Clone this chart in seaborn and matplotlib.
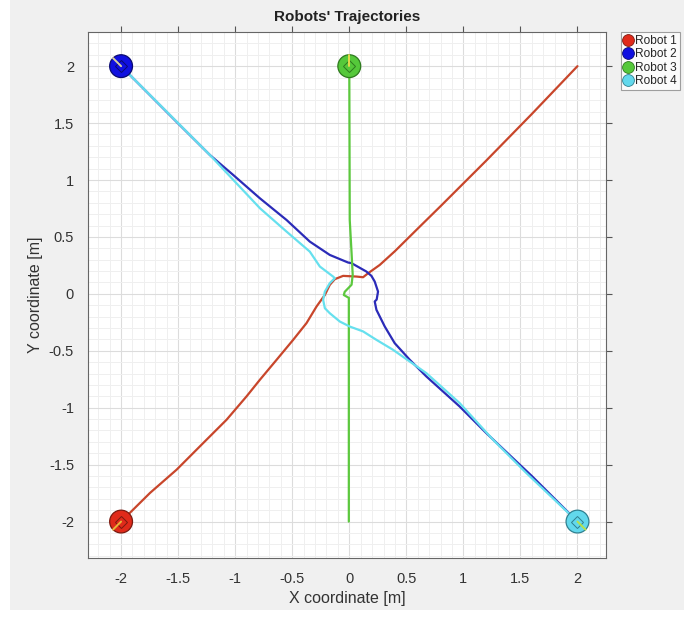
import numpy as np
import pandas as pd
import matplotlib
matplotlib.use("Agg")
import matplotlib.pyplot as plt
import seaborn as sns
from matplotlib.patches import Circle, Rectangle
from matplotlib.lines import Line2D
from matplotlib.ticker import MultipleLocator

# Trajectories (data coordinates, metres)
robot1_x = [-2.0, -1.746, -1.513, -1.28, -1.075, -0.90, -0.783, -0.637, -0.492, -0.375, -0.287, -0.229,
            -0.214, -0.171, -0.127, -0.054, 0.063, 0.121, 0.165, 0.267, 0.40, 0.617, 0.80, 1.2, 1.6, 2.0]
robot1_y = [-2.0, -1.748, -1.544, -1.31, -1.105, -0.90, -0.754, -0.579, -0.404, -0.257, -0.111, -0.03,
            -0.01, 0.079, 0.129, 0.158, 0.152, 0.146, 0.181, 0.254, 0.375, 0.59, 0.77, 1.17, 1.58, 2.0]

robot2_x = [-2.0, -1.513, -1.221, -1.017, -0.783, -0.55, -0.346, -0.171, -0.01, 0.019, 0.15, 0.194, 0.223,
            0.252, 0.24, 0.223, 0.238, 0.311, 0.398, 0.53, 0.675, 0.967, 1.2, 1.6, 2.0]
robot2_y = [2.0, 1.51, 1.219, 1.044, 0.839, 0.649, 0.459, 0.342, 0.275, 0.27, 0.196, 0.158, 0.108,
            0.02, -0.05, -0.067, -0.14, -0.287, -0.433, -0.579, -0.725, -0.989, -1.222, -1.6, -2.0]

robot3_x = [0.0, 0.004, 0.02, 0.03, 0.02, -0.04, -0.048, -0.004, -0.004, -0.004]
robot3_y = [2.0, 0.65, 0.36, 0.167, 0.08, 0.018, -0.01, -0.035, -0.11, -2.0]

robot4_x = [2.0, 1.551, 1.259, 0.967, 0.675, 0.383, 0.238, 0.121, 0.004, -0.083, -0.171, -0.214, -0.229,
            -0.214, -0.171, -0.127, -0.142, -0.258, -0.346, -0.55, -0.783, -1.221, -1.6, -2.0]
robot4_y = [-2.0, -1.573, -1.28, -0.959, -0.696, -0.491, -0.404, -0.33, -0.287, -0.243, -0.17, -0.126, -0.053,
            0.02, 0.094, 0.138, 0.152, 0.24, 0.371, 0.547, 0.752, 1.219, 1.6, 2.0]

# Robot start poses (x, y, heading in degrees)
robot_names = ["Robot 1", "Robot 2", "Robot 3", "Robot 4"]
start_x = [-2.0, -2.0, 0.0, 2.0]
start_y = [-2.0, 2.0, 2.0, -2.0]
heading_deg = [225, 135, 90, -45]

line_colors = ["#c8462b", "#2b2bb8", "#5cc83e", "#66e0ee"]
fill_colors = ["#e02a1a", "#1010e0", "#55c83a", "#62d8ec"]
edge_colors = ["#7a1a10", "#0a0a70", "#2e7a1e", "#2f8090"]
head_colors = ["#e8b83a", "#d9d0a0", "#e6d84a", "#b8e04a"]

traj = pd.concat([
    pd.DataFrame({"x": robot1_x, "y": robot1_y, "robot": "Robot 1"}),
    pd.DataFrame({"x": robot2_x, "y": robot2_y, "robot": "Robot 2"}),
    pd.DataFrame({"x": robot3_x, "y": robot3_y, "robot": "Robot 3"}),
    pd.DataFrame({"x": robot4_x, "y": robot4_y, "robot": "Robot 4"}),
], ignore_index=True)

sns.set_style("white")
plt.rcParams["font.family"] = ["Liberation Sans", "DejaVu Sans"]
plt.rcParams["axes.unicode_minus"] = False

fig = plt.figure(figsize=(6.84, 6.18), dpi=100, facecolor="white")
# grey window background like the screenshot
fig.patches.append(Rectangle((10 / 684, 8 / 618), 1, 1, transform=fig.transFigure,
                             facecolor="#f0f0f0", edgecolor="none", zorder=-10))
ax = fig.add_axes([88 / 684, 60 / 618, 518 / 684, 526 / 618])
ax.set_facecolor("white")

for i, name in enumerate(robot_names):
    sub = traj[traj["robot"] == name]
    sns.lineplot(data=sub, x="x", y="y", sort=False, estimator=None, color=line_colors[i],
                 linewidth=1.6, ax=ax, legend=False, zorder=3)

# robot bodies
for i in range(4):
    ax.add_patch(Circle((start_x[i], start_y[i]), 0.1, facecolor=fill_colors[i],
                        edgecolor=edge_colors[i], linewidth=0.9, zorder=5))
    ax.plot(start_x[i], start_y[i], marker="D", markersize=6, markerfacecolor="none",
            markeredgecolor=edge_colors[i], markeredgewidth=0.7, zorder=6)
    h = np.deg2rad(heading_deg[i])
    ax.plot([start_x[i], start_x[i] + 0.1 * np.cos(h)], [start_y[i], start_y[i] + 0.1 * np.sin(h)],
            color=head_colors[i], linewidth=1.4, zorder=7)

ax.set_xlim(-2.29, 2.25)
ax.set_ylim(-2.32, 2.30)
ax.xaxis.set_minor_locator(MultipleLocator(0.1))
ax.yaxis.set_minor_locator(MultipleLocator(0.1))
tick_vals = np.arange(-2, 2.01, 0.5)
tick_labels = ["-2", "-1.5", "-1", "-0.5", "0", "0.5", "1", "1.5", "2"]
ax.set_xticks(tick_vals)
ax.set_xticklabels(tick_labels)
ax.set_yticks(tick_vals)
ax.set_yticklabels(tick_labels)
ax.grid(which="major", color="#dcdcdc", linewidth=0.8)
ax.grid(which="minor", color="#efefef", linewidth=0.7)
ax.set_axisbelow(True)
ax.tick_params(which="major", direction="out", length=4, width=0.8, color="#555555",
               labelsize=10.5, labelcolor="#333333", top=True, right=True, pad=6)
ax.tick_params(which="minor", length=0)
for s in ax.spines.values():
    s.set_color("#666666")
    s.set_linewidth(0.8)

ax.set_xlabel("X coordinate [m]", fontsize=11.5, color="#333333", labelpad=4)
ax.set_ylabel("Y coordinate [m]", fontsize=11.5, color="#333333", labelpad=4)
ax.set_title("Robots' Trajectories", fontsize=11, fontweight="bold", color="#222222", pad=8)

# legend outside the axes, top right
handles = [Line2D([], [], linestyle="none", marker="o", markersize=8.5, markerfacecolor=fill_colors[i],
                  markeredgecolor=edge_colors[i], markeredgewidth=0.6) for i in range(4)]
leg = fig.legend(handles, robot_names, loc="upper left", bbox_to_anchor=(621 / 684, 1 - 32 / 618),
                 fontsize=8.6, frameon=True, fancybox=False, handlelength=0.7, handletextpad=0.25,
                 borderpad=0.25, labelspacing=0.12, borderaxespad=0)
leg.get_frame().set_edgecolor("#888888")
leg.get_frame().set_linewidth(0.8)

fig.savefig("out.png", dpi=100, facecolor=fig.get_facecolor())
